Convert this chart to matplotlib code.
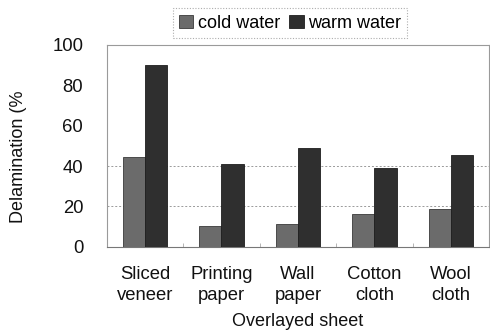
import matplotlib
matplotlib.use("Agg")
import matplotlib.pyplot as plt
import numpy as np

categories = ["Sliced\nveneer", "Printing\npaper", "Wall\npaper", "Cotton\ncloth", "Wool\ncloth"]
cold_water = [44.5, 10.5, 11.5, 16.5, 19]
warm_water = [90, 41, 49, 39, 45.5]
yticks = [0, 20, 40, 60, 80, 100]
grid_levels = [20, 40]

plt.rcParams['font.family'] = ['Liberation Sans', 'DejaVu Sans']

fig = plt.figure(figsize=(4.9, 3.35), dpi=100)
ax = fig.add_axes([0.218, 0.263, 0.78, 0.603])

x = np.arange(len(categories))
w = 0.29
ax.bar(x - w/2, cold_water, w, color="#6b6b6b", edgecolor="#3a3a3a", linewidth=0.6, label="cold water", zorder=3)
ax.bar(x + w/2, warm_water, w, color="#2f2f2f", edgecolor="#1e1e1e", linewidth=0.6, label="warm water", zorder=3)

for g in grid_levels:
    ax.axhline(g, color="#9a9a9a", linestyle=(0, (2, 2)), linewidth=0.7, zorder=1)

ax.set_xlim(-0.5, len(categories) - 0.5)
ax.set_ylim(0, 100)
ax.set_yticks(yticks)
ax.set_yticklabels([str(t) for t in yticks], fontsize=13.3, color="#111111")
ax.tick_params(axis='y', length=0, pad=17)

ax.set_xticks(x)
ax.set_xticklabels(categories, fontsize=13.3, color="#111111", linespacing=1.25)
ax.tick_params(axis='x', length=0, pad=14)
ax.set_xticks(np.arange(len(categories) + 1) - 0.5, minor=True)
ax.tick_params(axis='x', which='minor', direction='in', length=3, color="#aaaaaa")

for s in ax.spines.values():
    s.set_color("#9a9a9a")
    s.set_linewidth(0.8)
ax.spines['bottom'].set_color("#777777")

ax.set_xlabel("Overlayed sheet", fontsize=13, color="#111111", labelpad=7)
fig.text(0.037, 0.531, "Delamination (%", rotation=90, fontsize=13, color="#111111", ha='center', va='center')

leg = fig.legend(loc='center', bbox_to_anchor=(0.592, 0.931), ncol=2, fontsize=13,
                 frameon=True, fancybox=False, handlelength=0.8, handleheight=0.8,
                 handletextpad=0.25, columnspacing=0.5, borderpad=0.35)
leg.get_frame().set_edgecolor("#999999")
leg.get_frame().set_linestyle((0, (1, 1.5)))
leg.get_frame().set_linewidth(0.8)

fig.savefig("out.png", dpi=100)
